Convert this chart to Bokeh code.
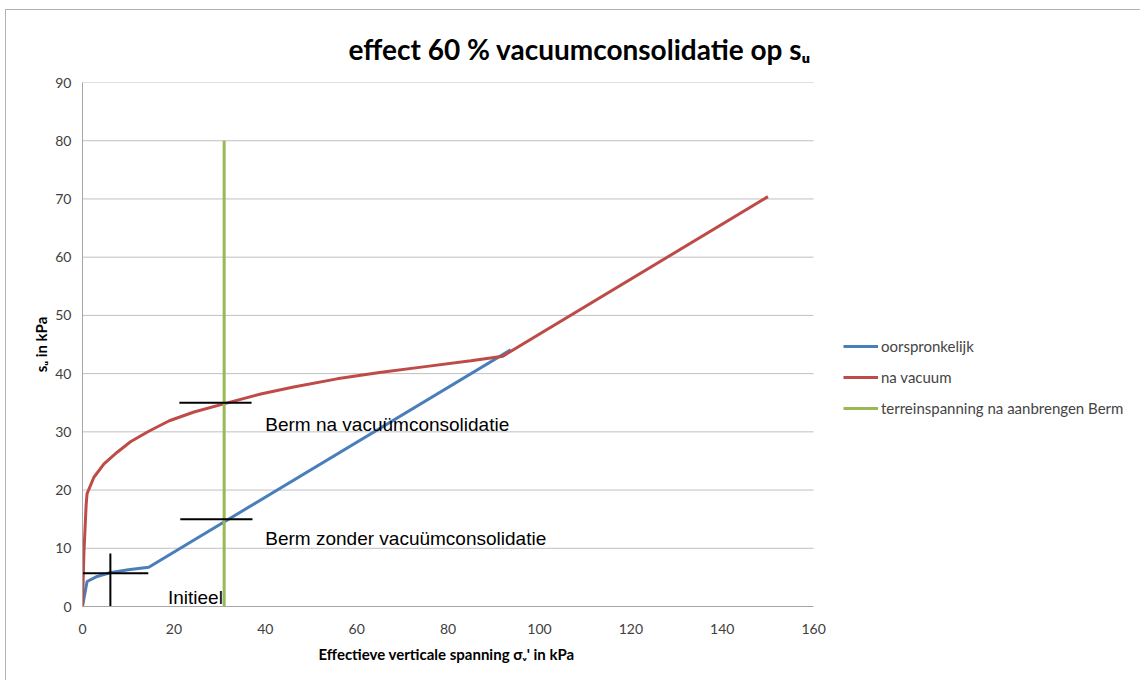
from bokeh.plotting import figure
from bokeh.models import Range1d, Legend, LegendItem, FixedTicker, Label, Title
from bokeh.embed import file_html
from bokeh.resources import INLINE

# --- data ---
x_ticks = [0, 20, 40, 60, 80, 100, 120, 140, 160]
y_ticks = [0, 10, 20, 30, 40, 50, 60, 70, 80, 90]

orig_x = [0, 1.0, 3, 6, 10, 14.5, 93.7]
orig_y = [0, 4.3, 5.1, 5.8, 6.3, 6.75, 44.1]

vac_x = [0, 0.3, 0.8, 1.0, 2.5, 4.7, 7.6, 10.5, 14.5, 19, 24.4, 30.9, 39, 46.2, 55.7,
         65, 75, 85, 92, 150]
vac_y = [0, 9, 17.5, 19.4, 22.2, 24.5, 26.5, 28.3, 30.1, 31.9, 33.4, 34.8, 36.5, 37.7, 39.1,
         40.2, 41.2, 42.2, 43.0, 70.4]

terrein_x = [31, 31]
terrein_y = [0, 80]

# annotation marker lines
mark_x0 = [21.2, 21.4, -1.3, 6.1]
mark_x1 = [37.0, 37.2, 14.4, 6.1]
mark_y0 = [35, 15, 5.7, 0]
mark_y1 = [35, 15, 5.7, 9.1]

note_text = ["Berm na vacuümconsolidatie", "Berm zonder vacuümconsolidatie", "Initieel"]
note_x = [40, 40, 18.7]
note_y = [31.3, 11.7, 1.55]

series_names = ["oorspronkelijk", "na vacuum", "terreinspanning na aanbrengen Berm"]
series_colors = ["#4A7EBB", "#BE4B48", "#98B954"]

FONT = "Lato"
X_MAX = x_ticks[-1]
X_VIEW = 230  # frame extends to the right to host the legend

p = figure(width=1135, height=671, output_backend="svg", toolbar_location=None,
           x_range=Range1d(0, X_VIEW), y_range=Range1d(y_ticks[0], y_ticks[-1]),
           min_border_left=76, min_border_right=8, min_border_top=72, min_border_bottom=75)
p.margin = (9, 0, 0, 5)

p.title.text = "effect 60 % vacuumconsolidatie op sᵤ"
p.title.text_font = FONT
p.title.text_font_size = "28px"
p.title.text_font_style = "bold"
p.title.text_color = "black"
p.title.align = "left"
p.title.offset = 266
p.title.standoff = 34

p.outline_line_color = None
p.xgrid.grid_line_color = None
p.ygrid.grid_line_color = None

# horizontal gridlines limited to the data extent of the x axis
grid_y = y_ticks[1:]
p.segment(x0=[0] * len(grid_y), x1=[X_MAX] * len(grid_y), y0=grid_y, y1=grid_y,
          line_color="#c0c0c0", line_width=1, level="underlay")

p.xaxis.ticker = FixedTicker(ticks=x_ticks)
p.yaxis.ticker = FixedTicker(ticks=y_ticks)
p.xaxis.bounds = (0, X_MAX)
for ax in (p.xaxis, p.yaxis):
    ax.axis_line_color = "#a6a6a6"
    ax.major_tick_line_color = None
    ax.minor_tick_line_color = None
    ax.major_tick_out = 0
    ax.major_tick_in = 0
    ax.major_label_text_font = FONT
    ax.major_label_text_font_size = "14px"
    ax.major_label_text_color = "#404040"
    ax.axis_label_text_font = FONT
    ax.axis_label_text_font_size = "15px"
    ax.axis_label_text_font_style = "bold"
    ax.axis_label_text_color = "#000000"

p.yaxis.axis_label = "sᵤ in kPa"
p.xaxis.major_label_standoff = 17
p.yaxis.major_label_standoff = 11
p.yaxis.axis_label_standoff = 2

xlabel = Title(text="Effectieve verticale spanning σᵥ' in kPa", align="left", offset=236,
               text_font=FONT, text_font_size="15px", text_font_style="bold",
               text_color="black", standoff=13)
p.add_layout(xlabel, "below")

r1 = p.line(orig_x, orig_y, line_color=series_colors[0], line_width=3)
r2 = p.line(vac_x, vac_y, line_color=series_colors[1], line_width=3)
r3 = p.line(terrein_x, terrein_y, line_color=series_colors[2], line_width=3)

p.segment(x0=mark_x0, y0=mark_y0, x1=mark_x1, y1=mark_y1, line_color="black", line_width=2)

for t, x, y in zip(note_text, note_x, note_y):
    p.add_layout(Label(x=x, y=y, text=t, text_font="Liberation Sans", text_font_size="19px",
                       text_color="black", text_baseline="middle", text_align="left"))

legend = Legend(items=[LegendItem(label=series_names[0], renderers=[r1]),
                       LegendItem(label=series_names[1], renderers=[r2]),
                       LegendItem(label=series_names[2], renderers=[r3])],
                location=(761, 188))
legend.label_text_font = FONT
legend.label_text_font_size = "15px"
legend.glyph_width = 35
legend.glyph_height = 20
legend.spacing = 11
legend.label_standoff = 3
legend.padding = 0
legend.margin = 0
legend.border_line_color = None
legend.background_fill_alpha = 0
p.add_layout(legend)

p.styles = {"border-top": "1px solid #b3b3b3", "border-left": "1px solid #b3b3b3"}

open("out.html", "w").write(file_html(p, INLINE))
